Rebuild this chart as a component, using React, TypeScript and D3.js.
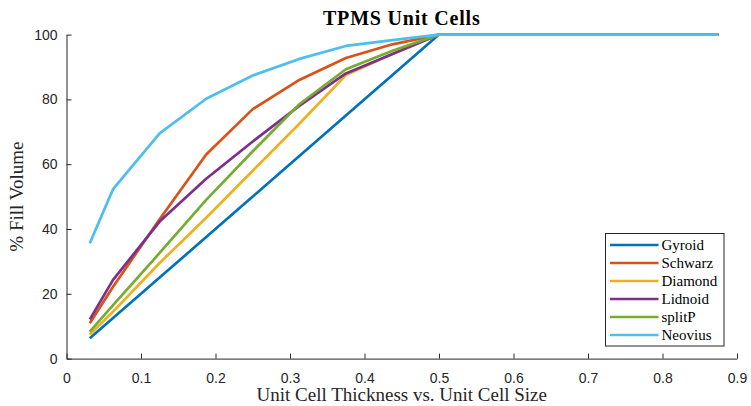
import React, { useEffect } from 'react';
import * as d3 from 'd3';

// thickness / cell size ratio (x)
const ratios = [0.03125, 0.0625, 0.125, 0.1875, 0.25, 0.3125, 0.375, 0.4375, 0.5, 0.5625, 0.625, 0.6875, 0.75, 0.8125, 0.875];

const gyroid = [6.3, 12.5, 25, 37.5, 50, 62.5, 75, 87.5, 100, 100, 100, 100, 100, 100, 100];
const schwarz = [10.9, 22.2, 43, 63, 77, 86, 92.8, 97, 100, 100, 100, 100, 100, 100, 100];
const diamond = [7.4, 14.5, 29.5, 43.5, 58, 72.5, 87.5, 94, 100, 100, 100, 100, 100, 100, 100];
const lidnoid = [12.1, 24.3, 42.3, 55.5, 67, 78, 88, 94, 100, 100, 100, 100, 100, 100, 100];
const splitP = [8.3, 16.5, 32.6, 49, 64, 78.5, 89.3, 95, 100, 100, 100, 100, 100, 100, 100];
const neovius = [35.6, 52.3, 69.5, 80.2, 87.4, 92.5, 96.5, 98.3, 100, 100, 100, 100, 100, 100, 100];

const seriesNames = ['Gyroid', 'Schwarz', 'Diamond', 'Lidnoid', 'splitP', 'Neovius'];
const seriesValues = [gyroid, schwarz, diamond, lidnoid, splitP, neovius];
const colors = ['#0072BD', '#D95319', '#EDB120', '#7E2F8E', '#77AC30', '#4DBEEE'];

const xTicks = [0, 0.1, 0.2, 0.3, 0.4, 0.5, 0.6, 0.7, 0.8, 0.9];
const yTicks = [0, 20, 40, 60, 80, 100];

const W = 751;
const H = 406;
const margin = { left: 66.5, right: 14, top: 34.6, bottom: 47.4 };

export default function App() {
  const svgRef = React.useRef<SVGSVGElement>(null);

  useEffect(() => {
    document.body.style.margin = '0';
    const svg = d3.select(svgRef.current);
    svg.selectAll('*').remove();

    const x = d3.scaleLinear().domain([0, 0.9]).range([margin.left, W - margin.right]);
    const y = d3.scaleLinear().domain([0, 100]).range([H - margin.bottom, margin.top]);
    const axisColor = '#262626';
    const tickFont = '"Liberation Sans", Arial, sans-serif';
    const texFont = '"Liberation Serif", "Times New Roman", serif';

    // axes (box off, ticks inward)
    const xAxis = svg.append('g').attr('transform', `translate(0,${y(0)})`)
      .call(d3.axisBottom(x).tickValues(xTicks).tickSizeInner(-5).tickSizeOuter(0).tickPadding(14).tickFormat(d3.format('')));
    const yAxis = svg.append('g').attr('transform', `translate(${x(0)},0)`)
      .call(d3.axisLeft(y).tickValues(yTicks).tickSizeInner(-5).tickSizeOuter(0).tickPadding(9));
    [xAxis, yAxis].forEach(g => {
      g.select('.domain').attr('stroke', axisColor).attr('stroke-width', 1);
      g.selectAll('.tick line').attr('stroke', axisColor);
      g.selectAll('.tick text').attr('fill', axisColor).style('font-family', tickFont).style('font-size', '14px');
    });

    // lines
    const lineGen = d3.line<number>()
      .x((_, i) => x(ratios[i]))
      .y(v => y(v));
    seriesValues.forEach((vals, i) => {
      svg.append('path')
        .datum(vals)
        .attr('d', lineGen)
        .attr('fill', 'none')
        .attr('stroke', colors[i])
        .attr('stroke-width', 2.7)
        .attr('stroke-linejoin', 'round');
    });

    // title and labels
    svg.append('text')
      .attr('x', (x(0) + x(0.9)) / 2).attr('y', 25)
      .attr('text-anchor', 'middle')
      .style('font-family', texFont).style('font-size', '20px').style('font-weight', 'bold')
      .style('letter-spacing', '0.8px')
      .attr('fill', '#000')
      .text('TPMS Unit Cells');
    svg.append('text')
      .attr('x', (x(0) + x(0.9)) / 2).attr('y', 401)
      .attr('text-anchor', 'middle')
      .style('font-family', texFont).style('font-size', '19px')
      .attr('fill', axisColor)
      .text('Unit Cell Thickness vs. Unit Cell Size');
    svg.append('text')
      .attr('transform', `translate(23,${(y(0) + y(100)) / 2}) rotate(-90)`)
      .attr('text-anchor', 'middle')
      .style('font-family', texFont).style('font-size', '19px')
      .attr('fill', axisColor)
      .text('% Fill Volume');

    // legend
    const lg = svg.append('g').attr('transform', 'translate(605.5,233.5)');
    lg.append('rect').attr('width', 118.5).attr('height', 112.5)
      .attr('fill', '#fff').attr('stroke', axisColor).attr('stroke-width', 1);
    seriesNames.forEach((name, i) => {
      const ry = 11.5 + i * 18;
      lg.append('line').attr('x1', 4.5).attr('x2', 53).attr('y1', ry).attr('y2', ry)
        .attr('stroke', colors[i]).attr('stroke-width', 2.7);
      lg.append('text').attr('x', 56).attr('y', ry).attr('dy', '0.35em')
        .style('font-family', texFont).style('font-size', '15px')
        .attr('fill', '#000')
        .text(name);
    });
  }, []);

  return (
    <React.Fragment>
      <svg ref={svgRef} width={W} height={H} style={{ display: 'block' }}></svg>
    </React.Fragment>
  );
}
